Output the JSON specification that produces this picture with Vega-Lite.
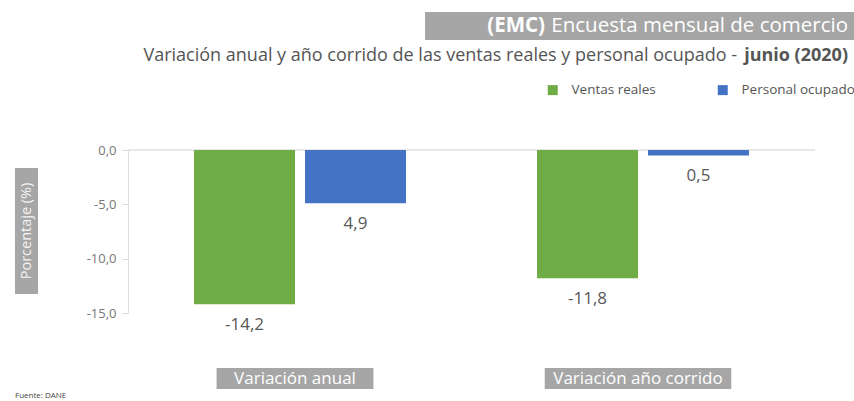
{
  "$schema": "https://vega.github.io/schema/vega-lite/v6.json",
  "padding": {"left": 15, "top": 12, "right": 0, "bottom": 0},
  "background": "white",
  "config": {"view": {"stroke": null}, "font": "Open Sans", "concat": {"spacing": 0}},
  "bounds": "flush",
  "spacing": 0,
  "title": {"text": "Fuente: DANE", "orient": "bottom", "anchor": "start", "fontSize": 8, "fontWeight": "normal", "color": "#444", "font": "Open Sans", "offset": 3},
  "vconcat": [
    {
      "bounds": "flush",
      "spacing": 0,
      "hconcat": [
        {"width": 410, "height": 28, "data": {"values": [{"t": ""}]}, "mark": {"type": "text"}, "encoding": {"text": {"field": "t"}}},
        {
          "width": 429, "height": 28,
          "view": {"fill": "#a6a6a6", "stroke": null},
          "data": {"values": [{"a": "(EMC)", "b": "Encuesta mensual de comercio"}]},
          "layer": [
            {"mark": {"type": "text", "x": "width", "align": "right", "baseline": "middle", "dx": -6, "fontSize": 20.5, "color": "white", "font": "Open Sans"}, "encoding": {"text": {"field": "b"}}},
            {"mark": {"type": "text", "x": "width", "align": "right", "baseline": "middle", "dx": -309, "fontSize": 20.5, "fontWeight": "bold", "color": "white", "font": "Open Sans"}, "encoding": {"text": {"field": "a"}}}
          ]
        }
      ]
    },
    {"width": 839, "height": 28, "data": {"values": [{"t": ""}]}, "mark": {"type": "text"}, "encoding": {"text": {"field": "t"}}},
    {
      "width": 839, "height": 32,
      "data": {"values": [{"a": "Variación anual y año corrido de las ventas reales y personal ocupado -", "b": "junio (2020)"}]},
      "layer": [
        {"mark": {"type": "text", "x": "width", "align": "right", "baseline": "middle", "dx": -6, "fontSize": 18, "fontWeight": "bold", "color": "#555", "font": "Open Sans"}, "encoding": {"text": {"field": "b"}}},
        {"mark": {"type": "text", "x": "width", "align": "right", "baseline": "middle", "dx": -117, "fontSize": 18, "color": "#555", "font": "Open Sans"}, "encoding": {"text": {"field": "a"}}}
      ]
    },
    {"width": 839, "height": 78, "data": {"values": [{"t": ""}]}, "mark": {"type": "text"}, "encoding": {"text": {"field": "t"}}},
    {
      "bounds": "flush",
      "spacing": 90,
      "hconcat": [
        {
          "width": 23, "height": 163,
          "data": {"values": [{"t": "Porcentaje (%)"}]},
          "layer": [
            {
              "mark": {"type": "rect", "color": "#a6a6a6"},
              "encoding": {
                "y": {"datum": -1.66, "type": "quantitative", "scale": {"domain": [-15, 0], "nice": false, "zero": false}, "axis": null},
                "y2": {"datum": -13.25}
              }
            },
            {
              "mark": {"type": "text", "angle": 270, "align": "center", "baseline": "middle", "fontSize": 14.5, "color": "#f4f4f4", "font": "Open Sans"},
              "encoding": {
                "y": {"datum": -7.45, "type": "quantitative"},
                "text": {"field": "t"}
              }
            }
          ]
        },
        {
          "width": 687, "height": 163,
          "data": {"values": [
            {"cat": "Variación anual", "serie": "Ventas reales", "valor": -14.2, "etiqueta": "-14,2"},
            {"cat": "Variación anual", "serie": "Personal ocupado", "valor": -4.9, "etiqueta": "4,9"},
            {"cat": "Variación año corrido", "serie": "Ventas reales", "valor": -11.8, "etiqueta": "-11,8"},
            {"cat": "Variación año corrido", "serie": "Personal ocupado", "valor": -0.5, "etiqueta": "0,5"}
          ]},
          "encoding": {
            "x": {"field": "cat", "type": "nominal", "sort": ["Variación anual", "Variación año corrido"], "scale": {"domain": ["Variación anual", "Variación año corrido"], "paddingInner": 0.382, "paddingOuter": 0.1925}, "axis": null}
          },
          "layer": [
            {"mark": {"type": "rule", "color": "#e6e6e6", "strokeWidth": 1}, "encoding": {"x": null, "y": {"datum": 0, "type": "quantitative"}}},
            {
              "mark": {"type": "bar"},
              "encoding": {
                "y": {"field": "valor", "type": "quantitative", "scale": {"domain": [-15, 0], "nice": false, "zero": false},
                  "axis": {"values": [0, -5, -10, -15], "domain": true, "domainColor": "#dddddd", "grid": false, "ticks": true, "tickColor": "#dddddd", "tickSize": 6, "labelPadding": 6, "labelFontSize": 13, "labelColor": "#777", "labelFont": "Open Sans", "title": null,
                    "labelExpr": "datum.value == 0 ? '0,0' : datum.value + ',0'"}},
                "xOffset": {"field": "serie", "type": "nominal", "sort": ["Ventas reales", "Personal ocupado"], "scale": {"paddingInner": 0.09, "paddingOuter": 0}},
                "color": {"field": "serie", "type": "nominal", "sort": ["Ventas reales", "Personal ocupado"],
                  "scale": {"domain": ["Ventas reales", "Personal ocupado"], "range": ["#6fac46", "#4472c4"]},
                  "legend": {"orient": "none", "direction": "horizontal", "legendX": 531, "legendY": 71, "title": null, "symbolType": "square", "symbolSize": 100, "symbolStrokeWidth": 0, "labelFontSize": 13.5, "labelColor": "#555", "labelFont": "Open Sans", "columnPadding": 60, "labelOffset": 12}}
              }
            },
            {
              "mark": {"type": "text", "baseline": "middle", "dy": 21, "fontSize": 17, "color": "#595959", "font": "Open Sans"},
              "encoding": {
                "y": {"field": "valor", "type": "quantitative"},
                "xOffset": {"field": "serie", "type": "nominal", "sort": ["Ventas reales", "Personal ocupado"], "scale": {"paddingInner": 0.09, "paddingOuter": 0}},
                "text": {"field": "etiqueta"}
              }
            },
            {
              "transform": [{"filter": "datum.serie == 'Ventas reales' && datum.cat == 'Variación anual'"}],
              "mark": {"type": "bar", "color": "#a6a6a6", "width": {"band": 0.74}, "xOffset": -5},
              "encoding": {
                "y": {"datum": -20.07, "type": "quantitative"},
                "y2": {"datum": -22}
              }
            },
            {
              "transform": [{"filter": "datum.serie == 'Ventas reales' && datum.cat == 'Variación año corrido'"}],
              "mark": {"type": "bar", "color": "#a6a6a6", "width": {"band": 0.88}, "xOffset": -5},
              "encoding": {
                "y": {"datum": -20.07, "type": "quantitative"},
                "y2": {"datum": -22}
              }
            },
            {
              "transform": [{"filter": "datum.serie == 'Ventas reales'"}],
              "mark": {"type": "text", "baseline": "middle", "color": "white", "fontSize": 17, "font": "Open Sans", "dx": -5},
              "encoding": {
                "y": {"datum": -21.03, "type": "quantitative"},
                "text": {"field": "cat"}
              }
            }
          ]
        }
      ]
    }
  ]
}
